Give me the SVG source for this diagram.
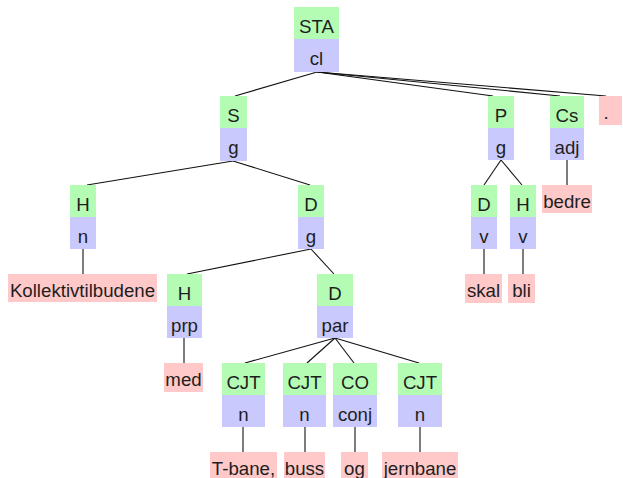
<svg xmlns="http://www.w3.org/2000/svg" width="623" height="478" viewBox="0 0 623 478">
  <style>
    .fn { fill: #b4fcb4; }
    .cat { fill: #c9c9fd; }
    .leaf { fill: #ffc9c9; }
    text { font-family: "Liberation Sans", Arial, sans-serif; font-size: 18.67px; text-anchor: middle; fill: #1e1e1e; }
    .edges line { stroke: #111; stroke-width: 1.1; }
  </style>
  <rect width="623" height="478" fill="#ffffff"/>

  <!-- tree edges -->
  <g id="connectors" class="edges">
    <line x1="317" y1="72" x2="235" y2="96"/>
    <line x1="317" y1="72" x2="493" y2="96"/>
    <line x1="317" y1="72" x2="560" y2="96"/>
    <line x1="317" y1="72" x2="606" y2="96"/>
    <line x1="233" y1="161" x2="87" y2="185"/>
    <line x1="233" y1="161" x2="310" y2="185"/>
    <line x1="501" y1="160" x2="484" y2="185"/>
    <line x1="501" y1="160" x2="522" y2="185"/>
    <line x1="567" y1="160" x2="567" y2="185"/>
    <line x1="83" y1="249" x2="83" y2="274"/>
    <line x1="311" y1="249" x2="187" y2="274"/>
    <line x1="311" y1="249" x2="334" y2="274"/>
    <line x1="484" y1="249" x2="484" y2="274"/>
    <line x1="523" y1="249" x2="523" y2="274"/>
    <line x1="184" y1="338" x2="184" y2="363"/>
    <line x1="335" y1="338" x2="245" y2="363"/>
    <line x1="335" y1="338" x2="307" y2="363"/>
    <line x1="335" y1="338" x2="354" y2="363"/>
    <line x1="335" y1="338" x2="419" y2="363"/>
    <line x1="243" y1="427" x2="243" y2="452"/>
    <line x1="305" y1="427" x2="305" y2="452"/>
    <line x1="355" y1="427" x2="355" y2="452"/>
    <line x1="420" y1="427" x2="420" y2="452"/>
  </g>

  <!-- root -->
  <g id="n-sta">
    <rect class="fn" x="294" y="7" width="45" height="32"/>
    <rect class="cat" x="294" y="39" width="45" height="33"/>
    <text x="316.5" y="33">STA</text>
    <text x="316.5" y="65">cl</text>
  </g>

  <!-- second level -->
  <g id="n-s">
    <rect class="fn" x="220" y="96" width="27" height="32"/>
    <rect class="cat" x="220" y="128" width="27" height="33"/>
    <text x="233.5" y="122">S</text>
    <text x="233.5" y="154">g</text>
  </g>
  <g id="n-p">
    <rect class="fn" x="488" y="96" width="26" height="32"/>
    <rect class="cat" x="488" y="128" width="26" height="32"/>
    <text x="501" y="122">P</text>
    <text x="501" y="154">g</text>
  </g>
  <g id="n-cs">
    <rect class="fn" x="550" y="96" width="34" height="32"/>
    <rect class="cat" x="550" y="128" width="34" height="32"/>
    <text x="567" y="122">Cs</text>
    <text x="567" y="154">adj</text>
  </g>
  <g id="w-dot">
    <rect class="leaf" x="599" y="96" width="23" height="29"/>
    <text x="606" y="119">.</text>
  </g>

  <!-- third level -->
  <g id="n-h1">
    <rect class="fn" x="70" y="185" width="26" height="32"/>
    <rect class="cat" x="70" y="217" width="26" height="32"/>
    <text x="83" y="211">H</text>
    <text x="83" y="243">n</text>
  </g>
  <g id="n-d1">
    <rect class="fn" x="298" y="185" width="26" height="32"/>
    <rect class="cat" x="298" y="217" width="26" height="32"/>
    <text x="311" y="211">D</text>
    <text x="311" y="243">g</text>
  </g>
  <g id="n-dv">
    <rect class="fn" x="471" y="185" width="26" height="32"/>
    <rect class="cat" x="471" y="217" width="26" height="32"/>
    <text x="484" y="211">D</text>
    <text x="484" y="243">v</text>
  </g>
  <g id="n-hv">
    <rect class="fn" x="510" y="185" width="26" height="32"/>
    <rect class="cat" x="510" y="217" width="26" height="32"/>
    <text x="523" y="211">H</text>
    <text x="523" y="243">v</text>
  </g>
  <g id="w-bedre">
    <rect class="leaf" x="542" y="185" width="50" height="28"/>
    <text x="567" y="208">bedre</text>
  </g>

  <!-- fourth level -->
  <g id="w-kollektivtilbudene">
    <rect class="leaf" x="8" y="274" width="149" height="28"/>
    <text x="82.5" y="297">Kollektivtilbudene</text>
  </g>
  <g id="n-h2">
    <rect class="fn" x="167" y="274" width="35" height="32"/>
    <rect class="cat" x="167" y="306" width="35" height="32"/>
    <text x="184.5" y="300">H</text>
    <text x="184.5" y="332">prp</text>
  </g>
  <g id="n-d2">
    <rect class="fn" x="317" y="274" width="36" height="32"/>
    <rect class="cat" x="317" y="306" width="36" height="32"/>
    <text x="335" y="300">D</text>
    <text x="335" y="332">par</text>
  </g>
  <g id="w-skal">
    <rect class="leaf" x="465" y="274" width="37" height="29"/>
    <text x="483.5" y="297">skal</text>
  </g>
  <g id="w-bli">
    <rect class="leaf" x="508" y="274" width="27" height="29"/>
    <text x="521.5" y="297">bli</text>
  </g>

  <!-- fifth level -->
  <g id="w-med">
    <rect class="leaf" x="164" y="363" width="39" height="29"/>
    <text x="183.5" y="386">med</text>
  </g>
  <g id="n-cjt1">
    <rect class="fn" x="222" y="363" width="43" height="32"/>
    <rect class="cat" x="222" y="395" width="43" height="32"/>
    <text x="243.5" y="389">CJT</text>
    <text x="243.5" y="421">n</text>
  </g>
  <g id="n-cjt2">
    <rect class="fn" x="283" y="363" width="43" height="32"/>
    <rect class="cat" x="283" y="395" width="43" height="32"/>
    <text x="304.5" y="389">CJT</text>
    <text x="304.5" y="421">n</text>
  </g>
  <g id="n-co">
    <rect class="fn" x="333" y="363" width="44" height="32"/>
    <rect class="cat" x="333" y="395" width="44" height="32"/>
    <text x="355" y="389">CO</text>
    <text x="355" y="421">conj</text>
  </g>
  <g id="n-cjt3">
    <rect class="fn" x="398" y="363" width="44" height="32"/>
    <rect class="cat" x="398" y="395" width="44" height="32"/>
    <text x="420" y="389">CJT</text>
    <text x="420" y="421">n</text>
  </g>

  <!-- bottom words -->
  <g id="w-tbane">
    <rect class="leaf" x="210" y="452" width="67" height="29"/>
    <text x="243.5" y="475">T-bane,</text>
  </g>
  <g id="w-buss">
    <rect class="leaf" x="284" y="452" width="41" height="29"/>
    <text x="304.5" y="475">buss</text>
  </g>
  <g id="w-og">
    <rect class="leaf" x="341" y="452" width="27" height="29"/>
    <text x="354.5" y="475">og</text>
  </g>
  <g id="w-jernbane">
    <rect class="leaf" x="382" y="452" width="76" height="29"/>
    <text x="420" y="475">jernbane</text>
  </g>
</svg>
